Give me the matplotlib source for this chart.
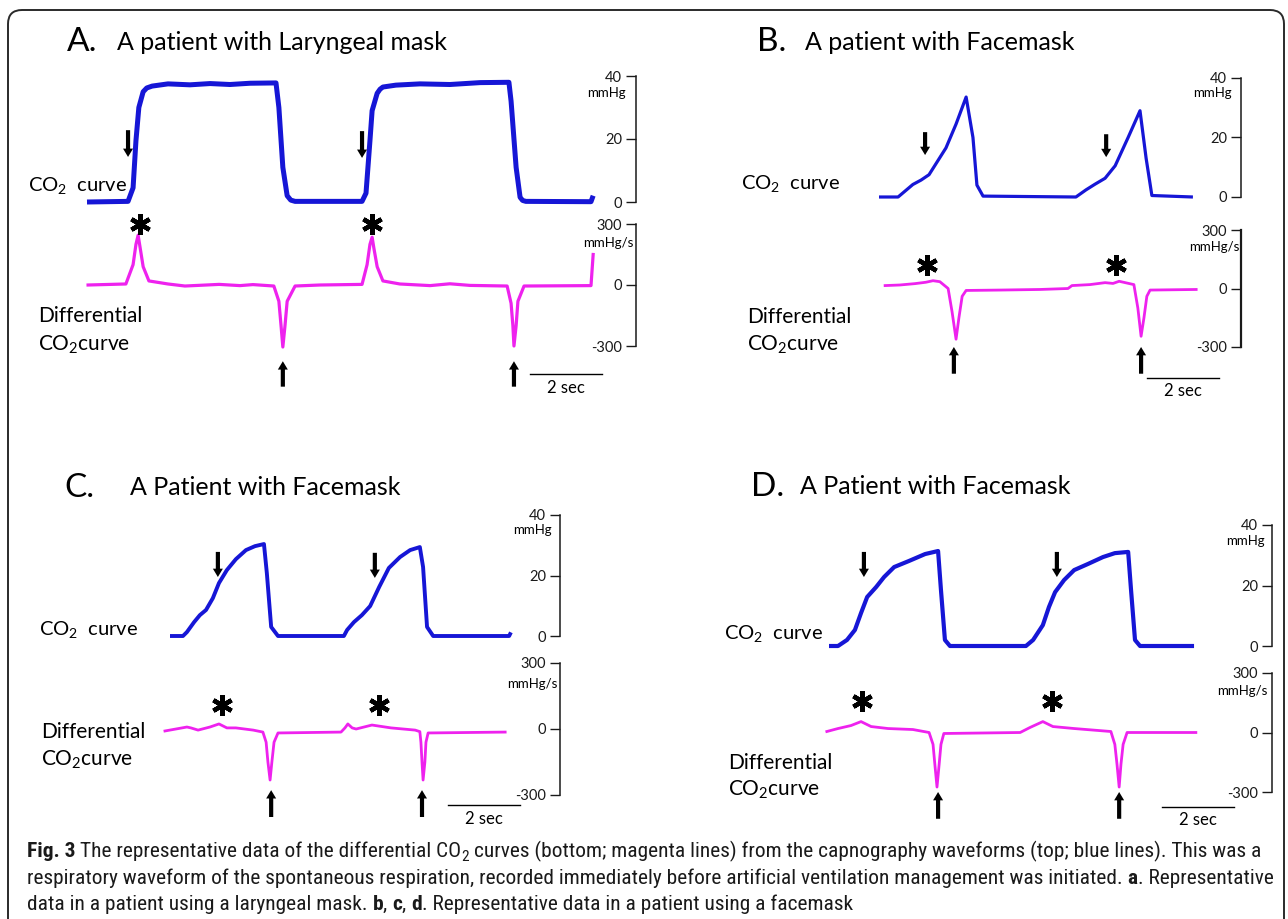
import matplotlib
matplotlib.use('Agg')
import matplotlib.pyplot as plt
from matplotlib import font_manager
from matplotlib.patches import FancyBboxPatch
from matplotlib.transforms import IdentityTransform

W, H = 1288, 919
PPS = 36.0      # pixels per second of the traces
XMIN = -0.4     # small margin left of t=0 (s)

BLUE = '#1616d6'
MAGENTA = '#ee22ee'

plt.rcParams['font.family'] = ['Lato', 'DejaVu Sans']
plt.rcParams['mathtext.fontset'] = 'custom'
plt.rcParams['mathtext.rm'] = 'Lato'
plt.rcParams['mathtext.it'] = 'Lato:italic'
plt.rcParams['mathtext.bf'] = 'Lato:bold'

# ---------------- panel A : laryngeal mask ----------------
a_co2_t = [0.0, 1.14, 1.28, 1.36, 1.44, 1.56, 1.66, 1.81, 2.25, 2.86, 3.42, 3.97, 4.53, 5.25,
           5.33, 5.44, 5.56, 5.66, 5.78, 7.64, 7.75, 7.86, 7.92, 8.06, 8.14, 8.22, 8.58, 9.25, 10.08,
           10.92, 11.72, 11.78, 11.92, 12.03, 12.1, 12.19, 14.0, 14.06]
a_co2_v = [0.0, 0.2, 4.5, 19.5, 30, 35, 36.2, 36.8, 37.5, 37.2, 37.6, 37.3, 37.7, 37.8,
           30, 11, 2, 0.6, 0.2, 0.2, 2.8, 19.5, 29, 34.5, 35.8, 36.5, 37.1, 37.5, 37.3,
           37.9, 38, 32, 11, 1.5, 0.5, 0.2, 0.1, 2.0]
a_dco2_t = [0.03, 1.08, 1.28, 1.36, 1.42, 1.47, 1.56, 1.72, 2.25, 2.72, 3.08, 3.67, 4.25,
            4.61, 5.19, 5.33, 5.39, 5.44, 5.5, 5.56, 5.78, 6.47, 7.64, 7.78, 7.86, 7.92,
            7.97, 8.06, 8.22, 8.69, 9.53, 10.08, 10.64, 11.67, 11.78, 11.83, 11.86, 11.92,
            11.97, 12.14, 14.0, 14.06]
a_dco2_v = [0, 5, 100, 200, 245, 190, 90, 20, 5, -5, -2, 3, -3,
            2, -5, -80, -200, -305, -200, -80, -5, 0, 3, 100, 200, 235,
            180, 90, 20, 5, -3, 6, -2, -5, -90, -200, -300, -200,
            -80, -5, -3, 150]
a_star_t = [1.47, 7.92]
a_star_v = [300, 300]
a_down_t = [1.14, 7.64]
a_down_v = [14.3, 14.0]
a_up_t = [5.44, 11.86]
a_up_v = [-375, -375]

# ---------------- panel B : facemask ----------------
b_co2_t = [0.0, 0.53, 0.94, 1.17, 1.39, 1.86, 2.14, 2.42, 2.61, 2.72, 2.89, 5.47, 5.75,
           6.0, 6.28, 6.56, 6.92, 7.25, 7.42, 7.58, 8.72]
b_co2_v = [0.0, 0.0, 4.2, 5.7, 7.5, 16.5, 24.5, 33.6, 20, 4, 0.3, 0.0, 2.4,
           4.3, 6.3, 10.5, 20, 29, 13, 0.5, 0.0]
b_dco2_t = [0.17, 0.58, 1.0, 1.3, 1.5, 1.69, 1.92, 2.03, 2.14, 2.22, 2.31, 2.42, 3.36,
            4.47, 5.25, 5.36, 5.86, 6.28, 6.5, 6.67, 7.08, 7.19, 7.28, 7.36, 7.44, 7.53, 8.81]
b_dco2_v = [15, 18, 25, 32, 40, 35, 0, -120, -260, -150, -40, -10, -8,
            -5, 0, 15, 20, 30, 26, 37, 20, -100, -245, -150, -40, -8, -5]
b_star_t = [1.33, 6.58]
b_star_v = [121, 121]
b_down_t = [1.28, 6.31]
b_down_v = [14.1, 13.4]
b_up_t = [2.08, 7.28]
b_up_v = [-300, -300]

# ---------------- panel C : facemask ----------------
c_co2_t = [0.0, 0.36, 0.47, 0.67, 0.83, 1.0, 1.19, 1.36, 1.58, 1.83, 2.11, 2.36, 2.61,
           2.69, 2.81, 3.0, 4.83, 4.92, 5.11, 5.33, 5.56, 5.81, 6.08, 6.39, 6.67, 6.94,
           7.03, 7.14, 7.31, 9.42, 9.47]
c_co2_v = [0.0, 0.0, 1.3, 4.6, 6.9, 8.6, 12.5, 17.5, 21.8, 25.4, 28.4, 29.7, 30.4,
           20.8, 3, 0.0, 0.0, 2, 4.6, 6.9, 9.9, 16.2, 22.5, 26.1, 28.4, 29.4,
           22.8, 3, 0.0, 0.0, 1.2]
c_dco2_t = [-0.14, 0.47, 0.58, 0.78, 1.11, 1.36, 1.58, 1.83, 2.31, 2.58, 2.67, 2.72, 2.78,
            2.83, 2.89, 3.0, 4.75, 4.86, 4.94, 5.06, 5.17, 5.61, 6.14, 6.81, 6.94, 6.97,
            7.0, 7.03, 7.08, 7.11, 7.17, 9.31]
c_dco2_v = [-9, 9, 5, -5, 9, 23, 5, 5, -5, -14, -60, -150, -232,
            -150, -60, -18, -14, 5, 23, 5, 0, 18, 5, -5, -12, -60,
            -150, -232, -150, -60, -18, -14]
c_star_t = [1.44, 5.81]
c_star_v = [109, 109]
c_down_t = [1.33, 5.69]
c_down_v = [19.5, 19.2]
c_up_t = [2.81, 7.0]
c_up_v = [-278, -278]

# ---------------- panel D : facemask ----------------
d_co2_t = [0.0, 0.25, 0.5, 0.72, 0.89, 1.06, 1.31, 1.53, 1.81, 2.22, 2.67, 3.03, 3.11,
           3.22, 3.36, 5.47, 5.67, 5.94, 6.11, 6.28, 6.53, 6.81, 7.19, 7.61, 7.94, 8.31,
           8.39, 8.5, 8.64, 10.14]
d_co2_v = [0.0, 0.0, 2, 5.3, 10.9, 16.2, 19.5, 22.8, 26.1, 28.1, 30.4, 31.4, 18.5,
           2, 0.0, 0.0, 2, 6.9, 12.9, 17.8, 21.8, 25.1, 27.1, 29.4, 30.7, 31.1,
           18.5, 2, 0.0, 0.0]
d_dco2_t = [-0.06, 0.25, 0.61, 0.89, 1.17, 1.64, 2.33, 2.78, 2.89, 2.94, 3.0, 3.06, 3.11,
            3.19, 5.31, 5.58, 5.94, 6.22, 6.81, 7.83, 7.94, 8.0, 8.06, 8.11, 8.17, 8.28, 10.19]
d_dco2_v = [5, 20, 35, 55, 30, 20, 15, 0, -60, -160, -275, -160, -60,
            -5, 0, 25, 55, 30, 20, 5, -60, -160, -275, -160, -60, 0, 0]
d_star_t = [0.92, 6.19]
d_star_v = [160, 160]
d_down_t = [0.97, 6.33]
d_down_v = [22.8, 22.8]
d_up_t = [3.03, 8.06]
d_up_v = [-300, -300]

co2_ticks = [0, 20, 40]
dco2_ticks = [-300, 0, 300]

# layout, in pixels of the 1288x919 picture
panels = [
    dict(letter='A.', title='A patient with Laryngeal mask', let_xy=(67, 42), tit_xy=(117, 42),
         lab1=(28, 185), lab2=(38, 316), lab3=(38, 345), x0=87, spine=636,
         top=(76, 202), bot=(224, 346), mm=(626, 93), mms=(633, 243),
         bar_t=12.31, bar_v=-440, sec_v=-505, lwb=3.6, lwm=2.3, arrow_len=(8.5, 125), spine_lw=1.1,
         co2=(a_co2_t, a_co2_v), dco2=(a_dco2_t, a_dco2_v), star=(a_star_t, a_star_v),
         down=(a_down_t, a_down_v), up=(a_up_t, a_up_v)),
    dict(letter='B.', title='A patient with Facemask', let_xy=(757, 42), tit_xy=(805, 42),
         lab1=(741, 183), lab2=(747, 317), lab3=(747, 345), x0=879, spine=1241,
         top=(78, 197), bot=(230, 347), mm=(1232, 93), mms=(1239, 247),
         bar_t=7.44, bar_v=-458, sec_v=-526, lwb=2.3, lwm=2.0, arrow_len=(7.7, 137), spine_lw=1.6,
         co2=(b_co2_t, b_co2_v), dco2=(b_dco2_t, b_dco2_v), star=(b_star_t, b_star_v),
         down=(b_down_t, b_down_v), up=(b_up_t, b_up_v)),
    dict(letter='C.', title='A Patient with Facemask', let_xy=(64, 488), tit_xy=(130, 488),
         lab1=(39, 630), lab2=(41, 732), lab3=(41, 760), x0=170, spine=560,
         top=(515, 636), bot=(663, 795), mm=(552, 530), mms=(557, 684),
         bar_t=7.72, bar_v=-346, sec_v=-410, lwb=2.8, lwm=2.0, arrow_len=(8.3, 122), spine_lw=1.1,
         co2=(c_co2_t, c_co2_v), dco2=(c_dco2_t, c_dco2_v), star=(c_star_t, c_star_v),
         down=(c_down_t, c_down_v), up=(c_up_t, c_up_v)),
    dict(letter='D.', title='A Patient with Facemask', let_xy=(751, 487), tit_xy=(800, 487),
         lab1=(724, 633), lab2=(728, 763), lab3=(728, 790), x0=829, spine=1272,
         top=(525, 646), bot=(673, 792), mm=(1265, 541), mms=(1267, 691),
         bar_t=9.25, bar_v=-375, sec_v=-440, lwb=3.0, lwm=2.0, arrow_len=(8.3, 135), spine_lw=1.1,
         co2=(d_co2_t, d_co2_v), dco2=(d_dco2_t, d_dco2_v), star=(d_star_t, d_star_v),
         down=(d_down_t, d_down_v), up=(d_up_t, d_up_v)),
]

fig = plt.figure(figsize=(W / 100, H / 100), dpi=100)


def px_axes(left, top, right, bottom):
    return fig.add_axes([left / W, 1 - bottom / H, (right - left) / W, (bottom - top) / H])


def ftext(xy, s, **kw):
    kw.setdefault('va', 'center')
    kw.setdefault('ha', 'left')
    return fig.text(xy[0] / W, 1 - xy[1] / H, s, **kw)


def style_scale(ax, ticks, lw):
    for side in ['left', 'top', 'bottom']:
        ax.spines[side].set_visible(False)
    ax.spines['right'].set_linewidth(lw)
    ax.spines['right'].set_color('#1a1a1a')
    ax.set_xticks([])
    ax.yaxis.tick_right()
    ax.set_yticks(ticks)
    ax.set_yticklabels([str(t) for t in ticks], ha='right', fontsize=10.5, color='#111111')
    ax.tick_params(axis='y', direction='in', length=7, width=1.0, pad=-10, colors='#1a1a1a')
    ax.patch.set_visible(False)


def arrow(ax, t, tip, tail):
    ax.annotate('', xy=(t, tip), xytext=(t, tail), annotation_clip=False,
                arrowprops=dict(arrowstyle='simple,head_length=0.6,head_width=0.72,tail_width=0.3',
                                color='black', lw=0, shrinkA=0, shrinkB=0, mutation_scale=10))


for p in panels:
    left = p['x0'] + XMIN * PPS
    tmax = (p['spine'] - p['x0']) / PPS

    ax1 = px_axes(left, p['top'][0], p['spine'], p['top'][1])
    ax1.set_xlim(XMIN, tmax)
    ax1.set_ylim(0, 40)
    style_scale(ax1, co2_ticks, 1.1)
    ax1.plot(p['co2'][0], p['co2'][1], color=BLUE, lw=p['lwb'], clip_on=False,
             solid_joinstyle='round', solid_capstyle='butt')
    for t, v in zip(*p['down']):
        arrow(ax1, t, v, v + p['arrow_len'][0])

    ax2 = px_axes(left, p['bot'][0], p['spine'], p['bot'][1])
    ax2.set_xlim(XMIN, tmax)
    ax2.set_ylim(-300, 300)
    style_scale(ax2, dco2_ticks, p['spine_lw'])
    ax2.plot(p['dco2'][0], p['dco2'][1], color=MAGENTA, lw=p['lwm'], clip_on=False,
             solid_joinstyle='round')
    ax2.plot(p['star'][0], p['star'][1], linestyle='none', marker=(6, 2, 0), ms=15, mew=3.2,
             color='black', clip_on=False)
    for t, v in zip(*p['up']):
        arrow(ax2, t, v, v - p['arrow_len'][1])

    # 2 sec scale bar
    ax2.plot([p['bar_t'], p['bar_t'] + 2], [p['bar_v'], p['bar_v']], color='black', lw=1.0,
             clip_on=False)
    ax2.text(p['bar_t'] + 1, p['sec_v'], '2 sec', ha='center', va='center', fontsize=12,
             clip_on=False)

    ftext(p['mm'], 'mmHg', ha='right', fontsize=9.5)
    ftext(p['mms'], 'mmHg/s', ha='right', fontsize=9.5)

    ftext(p['let_xy'], p['letter'], fontsize=24)
    ftext(p['tit_xy'], p['title'], fontsize=18)
    ftext(p['lab1'], r'CO$_2$  curve', fontsize=14.5)
    ftext(p['lab2'], 'Differential', fontsize=15)
    ftext(p['lab3'], r'CO$_2$curve', fontsize=15)

# outer rounded frame
frame = FancyBboxPatch((8, -40), 1276, H - 10 + 40, boxstyle='round,pad=0,rounding_size=14',
                       transform=IdentityTransform(), fill=False, edgecolor='#2a2a2a', lw=1.4)
fig.add_artist(frame)

# caption
names = {f.name for f in font_manager.fontManager.ttflist}
cap_font = 'Liberation Sans'
for cand in ['Liberation Sans Narrow', 'Roboto Condensed', 'Open Sans Condensed', 'Roboto']:
    if cand in names:
        cap_font = cand
        break

cap_lines = [
    [('Fig. 3', 'b', 0), ('The representative data of the differential CO', 'n', 1), ('2', 's', 0),
     ('curves (bottom; magenta lines) from the capnography waveforms (top; blue lines). This was a', 'n', 1)],
    [('respiratory waveform of the spontaneous respiration, recorded immediately before artificial '
      'ventilation management was initiated.', 'n', 0), ('a', 'b', 1), ('. Representative', 'n', 0)],
    [('data in a patient using a laryngeal mask.', 'n', 0), ('b', 'b', 1), (',', 'n', 0), ('c', 'b', 1),
     (',', 'n', 0), ('d', 'b', 1), ('. Representative data in a patient using a facemask', 'n', 0)],
]
cap_base = [857, 884, 910]

renderer = fig.canvas.get_renderer()


def draw_line(pieces, x, ybase, size):
    sp = fig.text(0, 0, 'a a', fontsize=size, family=cap_font)
    sp2 = fig.text(0, 0, 'aa', fontsize=size, family=cap_font)
    space = sp.get_window_extent(renderer).width - sp2.get_window_extent(renderer).width
    sp.remove()
    sp2.remove()
    xs = x
    arts = []
    for s, kind, gap in pieces:
        xs += space * gap
        fs = size * 0.72 if kind == 's' else size
        yy = ybase + (4 if kind == 's' else 0)
        t = fig.text(xs / W, 1 - yy / H, s, fontsize=fs, family=cap_font,
                     fontweight='bold' if kind == 'b' else 'normal', va='baseline', ha='left',
                     color='#1a1a1a')
        xs += t.get_window_extent(renderer).width
        arts.append(t)
    return xs - x, arts


size = 13.0
w, arts = draw_line(cap_lines[1], 27, cap_base[1], size)
for a in arts:
    a.remove()
size = size * 1243 / w
for line, yb in zip(cap_lines, cap_base):
    draw_line(line, 27, yb, size)

fig.savefig('out.png', dpi=100)
